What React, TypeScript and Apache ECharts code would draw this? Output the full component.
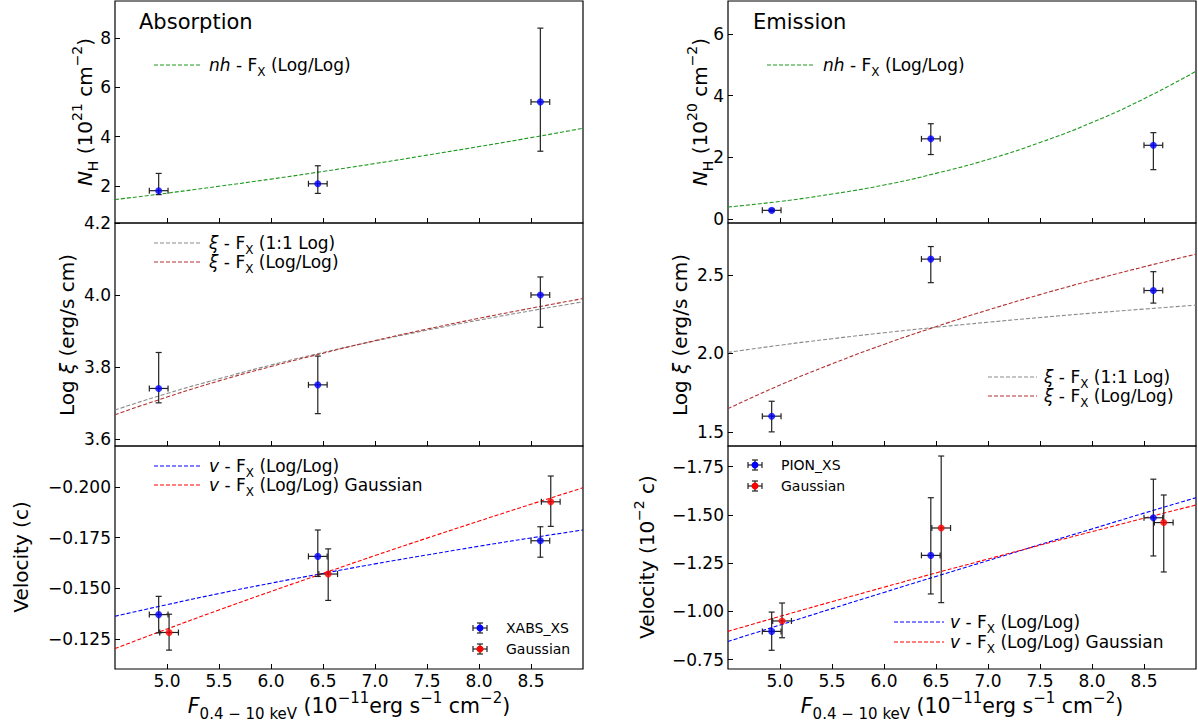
import React, { useEffect, useRef } from "react";
import * as echarts from "echarts";

// ---------- data ----------
const FLUX_XS = [4.92, 6.45, 8.59]; // XABS_XS / PION_XS flux
const FLUX_GAUSS = [5.02, 6.55, 8.69]; // Gaussian flux
const FLUX_ERR = [0.09, 0.09, 0.09];

// Absorption
const ABS_NH = [1.81, 2.09, 5.41];
const ABS_NH_LO = [1.65, 1.7, 3.41];
const ABS_NH_HI = [2.51, 2.82, 8.4];
const ABS_XI = [3.74, 3.75, 4.0];
const ABS_XI_LO = [3.7, 3.67, 3.91];
const ABS_XI_HI = [3.84, 3.83, 4.05];
const ABS_V = [-0.137, -0.1657, -0.1734];
const ABS_V_LO = [-0.128, -0.1558, -0.1653];
const ABS_V_HI = [-0.146, -0.1787, -0.1803];
const ABS_VG = [-0.1282, -0.157, -0.1926];
const ABS_VG_LO = [-0.1195, -0.144, -0.1805];
const ABS_VG_HI = [-0.1372, -0.1694, -0.2053];

// Emission
const EM_NH = [0.28, 2.6, 2.39];
const EM_NH_LO = [0.24, 2.09, 1.6];
const EM_NH_HI = [0.32, 3.09, 2.8];
const EM_XI = [1.6, 2.6, 2.4];
const EM_XI_LO = [1.5, 2.45, 2.32];
const EM_XI_HI = [1.695, 2.68, 2.52];
const EM_V = [-0.896, -1.29, -1.485];
const EM_V_LO = [-0.798, -1.09, -1.287];
const EM_V_HI = [-0.996, -1.589, -1.685];
const EM_VG = [-0.95, -1.432, -1.46];
const EM_VG_LO = [-0.863, -1.045, -1.204];
const EM_VG_HI = [-1.043, -1.805, -1.603];

// Fitted relations
const FIT_X = [4.5, 5.0, 5.5, 6.0, 6.5, 7.0, 7.5, 8.0, 8.5, 9.0];
const ABS_NH_FIT = [1.45, 1.71, 1.99, 2.28, 2.59, 2.91, 3.25, 3.6, 3.96, 4.34];
const ABS_XI_FIT_11 = [3.68, 3.726, 3.767, 3.805, 3.84, 3.872, 3.902, 3.93, 3.956, 3.981];
const ABS_XI_FIT_LL = [3.667, 3.716, 3.761, 3.801, 3.838, 3.873, 3.905, 3.935, 3.963, 3.99];
const ABS_V_FIT = [-0.1362, -0.1419, -0.1474, -0.1525, -0.1573, -0.162, -0.1664, -0.1707, -0.1748, -0.1787];
const ABS_VG_FIT = [-0.1203, -0.1299, -0.1393, -0.1484, -0.1573, -0.1661, -0.1747, -0.1831, -0.1914, -0.1995];
const EM_NH_FIT = [0.39, 0.57, 0.81, 1.1, 1.48, 1.93, 2.48, 3.13, 3.9, 4.79];
const EM_XI_FIT_11 = [2.006, 2.052, 2.093, 2.131, 2.166, 2.198, 2.228, 2.256, 2.282, 2.307];
const EM_XI_FIT_LL = [1.648, 1.798, 1.933, 2.057, 2.17, 2.276, 2.374, 2.465, 2.551, 2.632];
const EM_V_FIT = [-0.844, -0.929, -1.014, -1.098, -1.181, -1.263, -1.346, -1.427, -1.509, -1.589];
const EM_VG_FIT = [-0.896, -0.974, -1.05, -1.125, -1.199, -1.271, -1.343, -1.413, -1.483, -1.551];

// Ticks
const X_TICKS = [5.0, 5.5, 6.0, 6.5, 7.0, 7.5, 8.0, 8.5];
const ABS_NH_TICKS = [2, 4, 6, 8];
const ABS_XI_TICKS = [3.6, 3.8, 4.0, 4.2];
const ABS_V_TICKS = [-0.2, -0.175, -0.15, -0.125];
const EM_NH_TICKS = [0, 2, 4, 6];
const EM_XI_TICKS = [1.5, 2.0, 2.5];
const EM_V_TICKS = [-1.75, -1.5, -1.25, -1.0, -0.75];

// ---------- styling ----------
const FONT = "DejaVu Sans";
const BLUE = "#0000ff";
const RED = "#ff0000";
const GREEN = "#1f9a1f";
const GRAY = "#8a8a8a";
const BROWN = "#b23030";
const ERR = "#222222";

const GRIDS = [
  { left: 115, top: 1, width: 468, height: 222 },
  { left: 115, top: 223, width: 468, height: 223 },
  { left: 115, top: 446, width: 468, height: 223 },
  { left: 728, top: 1, width: 468, height: 222 },
  { left: 728, top: 223, width: 468, height: 223 },
  { left: 728, top: 446, width: 468, height: 223 },
];

const fmt = (v: number, dec: number) => {
  const s = Math.abs(v).toFixed(dec);
  return v < -1e-9 ? "\u2212" + s : s;
};

function xAx(idx: number, showLabels: boolean) {
  return {
    type: "value",
    gridIndex: idx,
    min: 4.5,
    max: 9.0,
    axisLine: { show: false, onZero: false },
    splitLine: { show: false },
    axisTick: { show: true, inside: true, length: 5, customValues: X_TICKS, lineStyle: { color: "#000", width: 1 } },
    axisLabel: {
      show: showLabels,
      customValues: X_TICKS,
      margin: 3,
      fontSize: 17,
      fontFamily: FONT,
      color: "#000",
      formatter: (v: number) => fmt(v, 1),
    },
  };
}

function yAx(idx: number, min: number, max: number, ticks: number[], dec: number, inverse = false) {
  return {
    type: "value",
    gridIndex: idx,
    min,
    max,
    inverse,
    axisLine: { show: false, onZero: false },
    splitLine: { show: false },
    axisTick: { show: true, inside: true, length: 5, customValues: ticks, lineStyle: { color: "#000", width: 1 } },
    axisLabel: {
      show: true,
      customValues: ticks,
      margin: 4,
      fontSize: 17,
      fontFamily: FONT,
      color: "#000",
      formatter: (v: number) => fmt(v, dec),
    },
  };
}

function fitLine(idx: number, ys: number[], color: string, name: string) {
  return {
    type: "line",
    name,
    xAxisIndex: idx,
    yAxisIndex: idx,
    data: FIT_X.map((x, i) => [x, ys[i]]),
    showSymbol: false,
    symbol: "none",
    smooth: true,
    silent: true,
    z: 3,
    lineStyle: { color, width: 1.1, type: [4, 2] },
  };
}

function errBars(idx: number, xs: number[], ys: number[], lo: number[], hi: number[]) {
  return {
    type: "custom",
    xAxisIndex: idx,
    yAxisIndex: idx,
    silent: true,
    z: 4,
    encode: { x: 0, y: 1 },
    data: xs.map((x, i) => [x, ys[i], FLUX_ERR[i], lo[i], hi[i]]),
    renderItem: (_p: any, api: any) => {
      const x = api.value(0), y = api.value(1), xe = api.value(2), l = api.value(3), h = api.value(4);
      const c = api.coord([x, y]);
      const pl = api.coord([x - xe, y]);
      const pr = api.coord([x + xe, y]);
      const pt = api.coord([x, h]);
      const pb = api.coord([x, l]);
      const cap = 3;
      const style = { stroke: ERR, lineWidth: 1.2, fill: "none" };
      const L = (x1: number, y1: number, x2: number, y2: number) => ({ type: "line", shape: { x1, y1, x2, y2 }, style });
      return {
        type: "group",
        children: [
          L(pl[0], c[1], pr[0], c[1]),
          L(pl[0], c[1] - cap, pl[0], c[1] + cap),
          L(pr[0], c[1] - cap, pr[0], c[1] + cap),
          L(c[0], pt[1], c[0], pb[1]),
          L(c[0] - cap, pt[1], c[0] + cap, pt[1]),
          L(c[0] - cap, pb[1], c[0] + cap, pb[1]),
        ],
      };
    },
  };
}

function points(idx: number, xs: number[], ys: number[], color: string, name: string) {
  return {
    type: "scatter",
    name,
    xAxisIndex: idx,
    yAxisIndex: idx,
    data: xs.map((x, i) => [x, ys[i]]),
    symbol: "circle",
    symbolSize: 7,
    silent: true,
    z: 5,
    itemStyle: { color, borderWidth: 0 },
  };
}

function rich(size: number, sub: number) {
  return {
    i: { fontStyle: "italic", fontSize: size, fontFamily: FONT, fill: "#000", lineHeight: Math.round(size * 1.5) },
    sub: { fontSize: sub, fontFamily: FONT, fill: "#000", verticalAlign: "bottom", lineHeight: sub + 2 },
    sup: { fontSize: sub, fontFamily: FONT, fill: "#000", verticalAlign: "top", lineHeight: sub + 2 },
  };
}

function txt(x: number, y: number, text: string, size: number, align = "left", rot = 0, sub?: number) {
  return {
    type: "text",
    x,
    y,
    rotation: rot,
    silent: true,
    z: 100,
    style: {
      text,
      fill: "#000",
      fontFamily: FONT,
      fontSize: size,
      lineHeight: Math.round(size * 1.5),
      align,
      textAlign: align,
      verticalAlign: "middle",
      textVerticalAlign: "middle",
      rich: rich(size, sub || Math.round(size * 0.72)),
    },
  };
}

function legLine(x1: number, x2: number, y: number, color: string) {
  return {
    type: "line",
    silent: true,
    z: 100,
    shape: { x1, y1: y, x2, y2: y },
    style: { stroke: color, lineWidth: 1.1, lineDash: [4, 2] },
  };
}

function legMarker(cx: number, cy: number, color: string) {
  const st = { stroke: ERR, lineWidth: 1.2 };
  const L = (x1: number, y1: number, x2: number, y2: number) => ({ type: "line", shape: { x1, y1, x2, y2 }, style: st });
  return {
    type: "group",
    silent: true,
    z: 100,
    children: [
      L(cx - 7, cy, cx + 7, cy),
      L(cx - 7, cy - 3, cx - 7, cy + 3),
      L(cx + 7, cy - 3, cx + 7, cy + 3),
      L(cx, cy - 5, cx, cy + 5),
      L(cx - 3, cy - 5, cx + 3, cy - 5),
      L(cx - 3, cy + 5, cx + 3, cy + 5),
      { type: "circle", shape: { cx, cy, r: 3.5 }, style: { fill: color } },
    ],
  };
}

const XLABEL = "{i|F}{sub|0.4 \u2212 10 keV} (10{sup|\u221211}erg s{sup|\u22121} cm{sup|\u22122})";
const AX = 20; // axis-name font size
const AXS = 14; // axis-name sub/sup size
const LG = 17; // legend font size
const LGS = 12;

export default function App() {
  const ref = useRef<HTMLDivElement>(null);
  useEffect(() => {
    if (!ref.current) return;
    const chart = echarts.init(ref.current, null, { renderer: "svg" });
    const option: any = {
      animation: false,
      backgroundColor: "#ffffff",
      grid: GRIDS.map((g) => ({ ...g, show: true, borderColor: "#000", borderWidth: 1.2, backgroundColor: "transparent", containLabel: false })),
      xAxis: [xAx(0, false), xAx(1, false), xAx(2, true), xAx(3, false), xAx(4, false), xAx(5, true)],
      yAxis: [
        yAx(0, 0.5, 9.5, ABS_NH_TICKS, 0),
        yAx(1, 3.58, 4.2, ABS_XI_TICKS, 1),
        yAx(2, -0.2201, -0.1102, ABS_V_TICKS, 3, true),
        yAx(3, -0.13, 7.07, EM_NH_TICKS, 0),
        yAx(4, 1.41, 2.83, EM_XI_TICKS, 1),
        yAx(5, -1.857, -0.701, EM_V_TICKS, 2, true),
      ],
      series: [
        // Absorption NH
        fitLine(0, ABS_NH_FIT, GREEN, "nh - Fx"),
        errBars(0, FLUX_XS, ABS_NH, ABS_NH_LO, ABS_NH_HI),
        points(0, FLUX_XS, ABS_NH, BLUE, "XABS_XS"),
        // Absorption xi
        fitLine(1, ABS_XI_FIT_11, GRAY, "xi 1:1"),
        fitLine(1, ABS_XI_FIT_LL, BROWN, "xi log/log"),
        errBars(1, FLUX_XS, ABS_XI, ABS_XI_LO, ABS_XI_HI),
        points(1, FLUX_XS, ABS_XI, BLUE, "XABS_XS"),
        // Absorption velocity
        fitLine(2, ABS_V_FIT, BLUE, "v"),
        fitLine(2, ABS_VG_FIT, RED, "v gauss"),
        errBars(2, FLUX_XS, ABS_V, ABS_V_LO, ABS_V_HI),
        errBars(2, FLUX_GAUSS, ABS_VG, ABS_VG_LO, ABS_VG_HI),
        points(2, FLUX_XS, ABS_V, BLUE, "XABS_XS"),
        points(2, FLUX_GAUSS, ABS_VG, RED, "Gaussian"),
        // Emission NH
        fitLine(3, EM_NH_FIT, GREEN, "nh - Fx"),
        errBars(3, FLUX_XS, EM_NH, EM_NH_LO, EM_NH_HI),
        points(3, FLUX_XS, EM_NH, BLUE, "PION_XS"),
        // Emission xi
        fitLine(4, EM_XI_FIT_11, GRAY, "xi 1:1"),
        fitLine(4, EM_XI_FIT_LL, BROWN, "xi log/log"),
        errBars(4, FLUX_XS, EM_XI, EM_XI_LO, EM_XI_HI),
        points(4, FLUX_XS, EM_XI, BLUE, "PION_XS"),
        // Emission velocity
        fitLine(5, EM_V_FIT, BLUE, "v"),
        fitLine(5, EM_VG_FIT, RED, "v gauss"),
        errBars(5, FLUX_XS, EM_V, EM_V_LO, EM_V_HI),
        errBars(5, FLUX_GAUSS, EM_VG, EM_VG_LO, EM_VG_HI),
        points(5, FLUX_XS, EM_V, BLUE, "PION_XS"),
        points(5, FLUX_GAUSS, EM_VG, RED, "Gaussian"),
      ],
      graphic: [
        // titles
        txt(139, 22, "Absorption", 21),
        txt(753, 22, "Emission", 21),
        // y axis names
        txt(85, 112, "{i|N}{sub|H} (10{sup|21} cm{sup|\u22122})", AX, "center", Math.PI / 2, AXS),
        txt(67, 335, "Log {i|\u03be} (erg/s cm)", AX, "center", Math.PI / 2, AXS),
        txt(21, 557, "Velocity (c)", AX, "center", Math.PI / 2, AXS),
        txt(700, 112, "{i|N}{sub|H} (10{sup|20} cm{sup|\u22122})", AX, "center", Math.PI / 2, AXS),
        txt(680, 335, "Log {i|\u03be} (erg/s cm)", AX, "center", Math.PI / 2, AXS),
        txt(647, 557, "Velocity (10{sup|\u22122} c)", AX, "center", Math.PI / 2, AXS),
        // x axis names
        txt(349, 706, XLABEL, 20.5, "center", 0, 15),
        txt(962, 706, XLABEL, 20.5, "center", 0, 15),
        // legends: absorption
        legLine(154, 202, 65, GREEN),
        txt(209, 65, "{i|nh} - F{sub|X} (Log/Log)", LG, "left", 0, LGS),
        legLine(154, 202, 243, GRAY),
        txt(209, 243, "{i|\u03be} - F{sub|X} (1:1 Log)", LG, "left", 0, LGS),
        legLine(154, 202, 262, BROWN),
        txt(209, 262, "{i|\u03be} - F{sub|X} (Log/Log)", LG, "left", 0, LGS),
        legLine(154, 202, 466, BLUE),
        txt(209, 466, "{i|v} - F{sub|X} (Log/Log)", LG, "left", 0, LGS),
        legLine(154, 202, 485, RED),
        txt(209, 485, "{i|v} - F{sub|X} (Log/Log) Gaussian", LG, "left", 0, LGS),
        legMarker(480, 628, BLUE),
        txt(506, 628, "XABS_XS", 14),
        legMarker(480, 649, RED),
        txt(506, 649, "Gaussian", 14),
        // legends: emission
        legLine(767, 815, 65, GREEN),
        txt(823, 65, "{i|nh} - F{sub|X} (Log/Log)", LG, "left", 0, LGS),
        legLine(988, 1037, 377, GRAY),
        txt(1044, 377, "{i|\u03be} - F{sub|X} (1:1 Log)", LG, "left", 0, LGS),
        legLine(988, 1037, 396, BROWN),
        txt(1044, 396, "{i|\u03be} - F{sub|X} (Log/Log)", LG, "left", 0, LGS),
        legMarker(755, 465, BLUE),
        txt(781, 465, "PION_XS", 14),
        legMarker(755, 486, RED),
        txt(781, 486, "Gaussian", 14),
        legLine(894, 944, 622, BLUE),
        txt(950, 622, "{i|v} - F{sub|X} (Log/Log)", LG, "left", 0, LGS),
        legLine(894, 944, 642, RED),
        txt(950, 642, "{i|v} - F{sub|X} (Log/Log) Gaussian", LG, "left", 0, LGS),
      ],
    };
    chart.setOption(option);
    return () => chart.dispose();
  }, []);
  return (
    <div
      ref={ref}
      style={{ position: "absolute", left: 0, top: 0, width: 1198, height: 725, background: "#fff" }}
    />
  );
}
